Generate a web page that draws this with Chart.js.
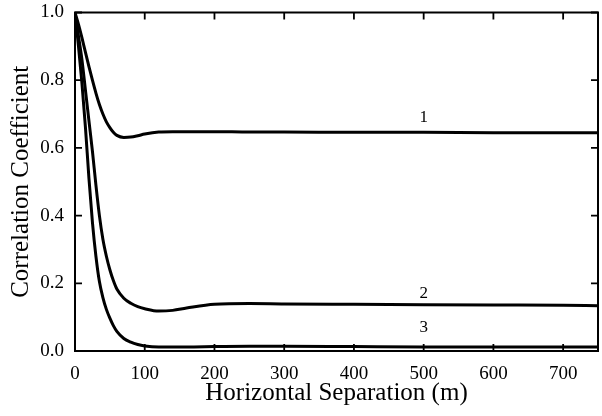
<!DOCTYPE html>
<html>
<head>
<meta charset="utf-8">
<script src="https://cdn.jsdelivr.net/npm/chart.js@4/dist/chart.umd.min.js"></script>
<style>
  html, body { margin: 0; padding: 0; background: #fff; }
  #wrap { width: 602px; height: 416px; }
</style>
</head>
<body>
<div id="wrap"><canvas id="chart" width="602" height="416"></canvas></div>
<script>
// horizontal separation (m)
const separation = [0, 5, 10, 15, 20, 25, 30, 35, 40, 45, 50, 55, 60, 70, 80, 90, 100, 120, 140, 160, 200, 250, 300, 400, 500, 600, 700, 750]

// correlation coefficient, one array per curve
const curve1 = [1.0, 0.965, 0.925, 0.882, 0.84, 0.80, 0.762, 0.728, 0.70, 0.677, 0.66, 0.646, 0.637, 0.631, 0.632, 0.636, 0.641, 0.647, 0.648, 0.648, 0.648, 0.647, 0.647, 0.646, 0.646, 0.645, 0.645, 0.645]
const curve2 = [1.0, 0.93, 0.86, 0.77, 0.68, 0.59, 0.49, 0.40, 0.33, 0.28, 0.24, 0.208, 0.183, 0.156, 0.141, 0.131, 0.125, 0.118, 0.12, 0.127, 0.138, 0.14, 0.139, 0.138, 0.137, 0.136, 0.135, 0.134]
const curve3 = [1.0, 0.90, 0.79, 0.66, 0.51, 0.38, 0.28, 0.205, 0.158, 0.123, 0.097, 0.075, 0.058, 0.037, 0.026, 0.019, 0.015, 0.012, 0.012, 0.012, 0.013, 0.014, 0.014, 0.013, 0.012, 0.012, 0.012, 0.012]

const xTicks = [0, 100, 200, 300, 400, 500, 600, 700]
const yTicks = [0.0, 0.2, 0.4, 0.6, 0.8, 1.0]

// curve numbers written next to each line (data units)
const curveLabels = [
  { text: "1", x: 500, y: 0.69 },
  { text: "2", x: 500, y: 0.17 },
  { text: "3", x: 500, y: 0.07 }
]

const SERIF = "'Liberation Serif', 'DejaVu Serif', serif"

const toPoints = (ys) => separation.map((x, i) => ({ x: x, y: ys[i] }))

const lineStyle = {
  borderColor: "#000",
  borderWidth: 3,
  pointRadius: 0,
  fill: false,
  cubicInterpolationMode: "monotone"
}

// frame with inward ticks on all four sides, plus the curve numbers
const framePlugin = {
  id: "frame",
  afterDraw(chart) {
    const { ctx, chartArea: a, scales } = chart
    const xs = scales.x
    const ys = scales.y
    ctx.save()
    ctx.strokeStyle = "#000"
    ctx.lineWidth = 2
    ctx.strokeRect(a.left, a.top, a.right - a.left, a.bottom - a.top)
    ctx.lineWidth = 1.8
    const len = 7
    xTicks.forEach((v) => {
      const px = xs.getPixelForValue(v)
      ctx.beginPath()
      ctx.moveTo(px, a.bottom)
      ctx.lineTo(px, a.bottom - len)
      ctx.moveTo(px, a.top)
      ctx.lineTo(px, a.top + len)
      ctx.stroke()
    })
    yTicks.forEach((v) => {
      const py = ys.getPixelForValue(v)
      ctx.beginPath()
      ctx.moveTo(a.left, py)
      ctx.lineTo(a.left + len, py)
      ctx.moveTo(a.right, py)
      ctx.lineTo(a.right - len, py)
      ctx.stroke()
    })
    ctx.fillStyle = "#000"
    ctx.font = "17px " + SERIF
    ctx.textAlign = "center"
    ctx.textBaseline = "middle"
    curveLabels.forEach((l) => {
      ctx.fillText(l.text, xs.getPixelForValue(l.x), ys.getPixelForValue(l.y))
    })
    ctx.restore()
  }
}

new Chart(document.getElementById("chart"), {
  type: "line",
  data: {
    datasets: [
      { label: "1", data: toPoints(curve1), ...lineStyle },
      { label: "2", data: toPoints(curve2), ...lineStyle },
      { label: "3", data: toPoints(curve3), ...lineStyle }
    ]
  },
  options: {
    responsive: false,
    animation: false,
    layout: { padding: { top: 5, right: 4, left: 0, bottom: 0 } },
    plugins: {
      legend: { display: false },
      tooltip: { enabled: false }
    },
    scales: {
      x: {
        type: "linear",
        min: 0,
        max: 750,
        afterBuildTicks: (scale) => { scale.ticks = xTicks.map((v) => ({ value: v })) },
        afterFit: (scale) => { scale.height = 65 },
        grid: { display: false },
        border: { display: false },
        ticks: {
          color: "#000",
          font: { family: SERIF, size: 19 },
          padding: 4,
          maxRotation: 0
        },
        title: {
          display: true,
          text: "Horizontal Separation (m)",
          color: "#000",
          font: { family: SERIF, size: 25 },
          padding: { top: 0, bottom: 8 }
        }
      },
      y: {
        type: "linear",
        min: 0,
        max: 1,
        afterBuildTicks: (scale) => { scale.ticks = yTicks.map((v) => ({ value: v })) },
        afterFit: (scale) => { scale.width = 75 },
        grid: { display: false },
        border: { display: false },
        ticks: {
          color: "#000",
          font: { family: SERIF, size: 19, lineHeight: 1 },
          padding: 3,
          callback: (v) => v.toFixed(1)
        },
        title: {
          display: true,
          text: "Correlation Coefficient",
          color: "#000",
          font: { family: SERIF, size: 25 },
          padding: { top: 6, bottom: 0 }
        }
      }
    }
  },
  plugins: [framePlugin]
})
</script>
</body>
</html>
